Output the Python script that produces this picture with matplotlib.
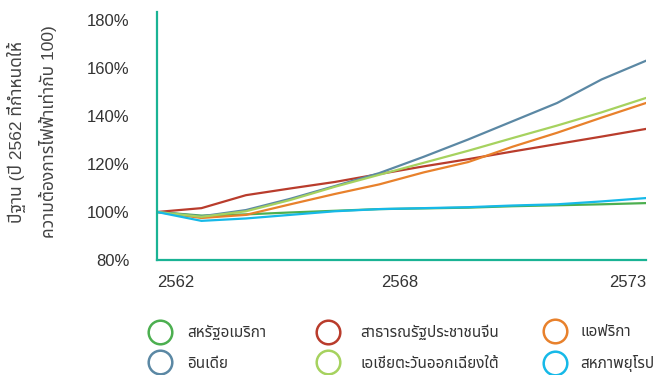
import matplotlib
matplotlib.use("Agg")
import matplotlib.pyplot as plt
from matplotlib.lines import Line2D

plt.rcParams["font.family"] = ["Liberation Sans", "Noto Sans Thai", "DejaVu Sans"]

years = list(range(2562, 2574))

# index of electricity demand, base year 2562 = 100
usa = [100, 98.5, 99, 99.8, 100.5, 101.2, 101.5, 101.8, 102.4, 102.8, 103.2, 103.7]
china = [100, 101.6, 107, 109.8, 112.5, 115.8, 119, 122, 125.2, 128.3, 131.4, 134.6]
africa = [100, 97.5, 98.8, 103.2, 107.5, 111.5, 116.5, 120.8, 127.2, 133, 139.3, 145.4]
india = [100, 98.2, 100.8, 105.5, 110.8, 116.2, 123, 130.2, 137.8, 145.4, 155.2, 163]
seasia = [100, 98, 100.3, 105, 110.5, 115.5, 120.5, 125.5, 130.8, 136, 141.5, 147.5]
eu = [100, 96.3, 97.3, 98.8, 100.3, 101.2, 101.6, 102, 102.7, 103.2, 104.4, 105.8]

names = ["สหรัฐอเมริกา", "สาธารณรัฐประชาชนจีน", "แอฟริกา",
         "อินเดีย", "เอเชียตะวันออกเฉียงใต้", "สหภาพยุโรป"]
colors = ["#4caf50", "#b93c2c", "#e8812c", "#5b88a4", "#a6d25f", "#16b9e8"]
series = [usa, china, africa, india, seasia, eu]

x_ticks = [2562, 2567.45, 2573]
x_labels = ["2562", "2568", "2573"]
y_ticks = [80, 100, 120, 140, 160, 180]

AXIS = "#1ab394"
TEXT = "#333333"

fig = plt.figure(figsize=(6.66, 3.75), dpi=100)
ax = fig.add_axes([157 / 666, 1 - 260 / 375, (646 - 157) / 666, 248 / 375])

for vals, c in zip(series, colors):
    ax.plot(years, vals, color=c, lw=1.6, solid_joinstyle="round")

ax.set_xlim(2562, 2573)
ax.set_ylim(80, 183.3)

for s in ["top", "right"]:
    ax.spines[s].set_visible(False)
for s in ["left", "bottom"]:
    ax.spines[s].set_color(AXIS)
    ax.spines[s].set_linewidth(1.6)

ax.set_yticks(y_ticks)
ax.set_yticklabels([f"{v}%" for v in y_ticks])
ax.set_xticks(x_ticks)
ax.set_xticklabels(x_labels)
ax.tick_params(axis="y", length=0, pad=20, labelsize=12, labelcolor=TEXT)
ax.tick_params(axis="x", length=0, pad=11, labelsize=12, labelcolor=TEXT)
xt = ax.get_xticklabels()
xt[0].set_ha("left")
xt[-1].set_ha("right")

fig.text(32 / 666, 1 - 132 / 375,
         "ปีฐาน (ปี 2562 ที่กำหนดให้\nความต้องการไฟฟ้าเท่ากับ 100)",
         rotation=90, ha="center", va="center", multialignment="center",
         fontsize=12.5, color="#444444", linespacing=1.9)

# one small legend per column so each column sits where it does in the source
fs = 11
px = fs * 100 / 72
cols = [(0, 3, 160, 187), (1, 4, 328, 360), (2, 5, 555, 580)]
for a, b, cx, tx in cols:
    hs = [Line2D([], [], ls="none", marker="o", markersize=17,
                 markerfacecolor="none", markeredgecolor=colors[i],
                 markeredgewidth=1.8) for i in (a, b)]
    hl = 1.6
    pad = (tx - cx) / px - hl / 2
    leg = fig.legend(hs, [names[a], names[b]], loc="upper left",
                     bbox_to_anchor=((cx - hl * px / 2) / 666, 1 - 325 / 375),
                     frameon=False, fontsize=fs, labelcolor=TEXT,
                     handlelength=hl, handletextpad=pad, labelspacing=1.08,
                     borderaxespad=0, borderpad=0)

fig.savefig("out.png", dpi=100, facecolor="white")
